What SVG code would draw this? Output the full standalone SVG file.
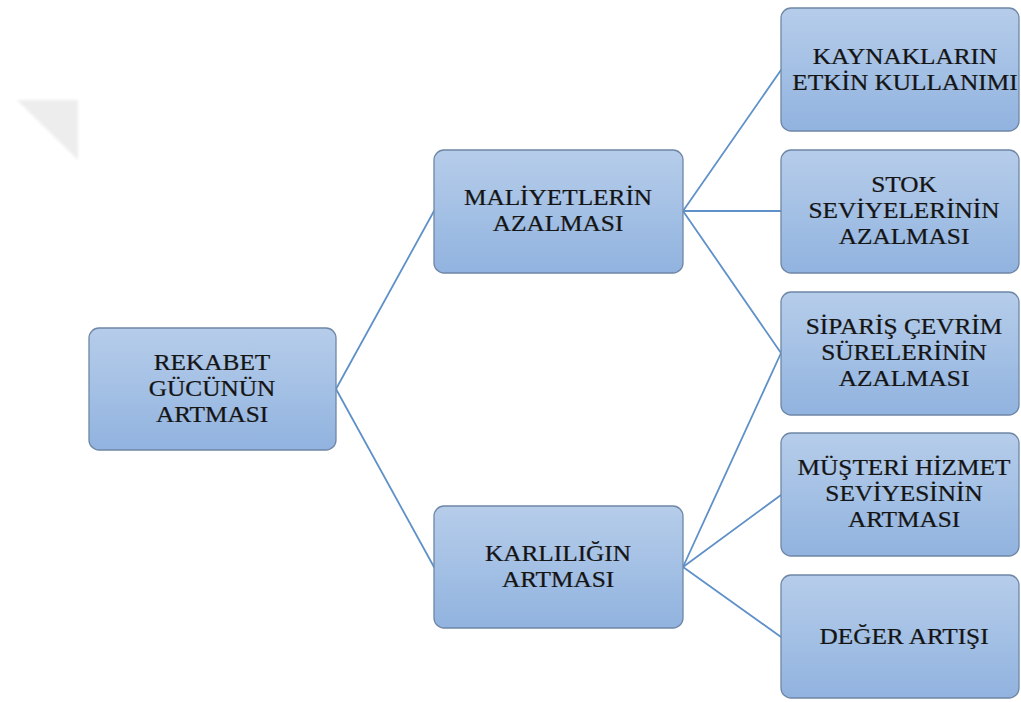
<svg xmlns="http://www.w3.org/2000/svg" width="1021" height="702" viewBox="0 0 1021 702" font-family="Liberation Serif, serif">
  <style>
    .box { fill: url(#boxFill); stroke: #6f87a6; stroke-width: 1.3; }
    .lbl { font-size: 23px; fill: #141414; stroke: #1c1c1c; stroke-width: 0.25; text-anchor: middle; }
    .link { stroke: #5f91c9; stroke-width: 1.8; fill: none; stroke-linecap: round; }
  </style>
  <defs>
    <linearGradient id="boxFill" x1="0" y1="0" x2="0" y2="1">
      <stop offset="0" stop-color="#b6cdea"/>
      <stop offset="1" stop-color="#91b3df"/>
    </linearGradient>
    <filter id="soft" x="-20%" y="-20%" width="140%" height="140%">
      <feGaussianBlur stdDeviation="1.5"/>
    </filter>
  </defs>

  <rect width="1021" height="702" fill="#ffffff"/>

  <!-- faint corner mark -->
  <polygon points="17,100 78,100 78,160" fill="#ededed" filter="url(#soft)"/>

  <!-- connectors -->
  <g id="connectors">
    <line class="link" x1="336" y1="389" x2="434" y2="211"/>
    <line class="link" x1="336" y1="389" x2="434" y2="567"/>
    <line class="link" x1="683" y1="211" x2="781" y2="70"/>
    <line class="link" x1="683" y1="211" x2="781" y2="211"/>
    <line class="link" x1="683" y1="211" x2="781" y2="353"/>
    <line class="link" x1="683" y1="567" x2="781" y2="353"/>
    <line class="link" x1="683" y1="567" x2="781" y2="495"/>
    <line class="link" x1="683" y1="567" x2="781" y2="637"/>
  </g>

  <!-- labels are set in a slightly widened serif: each block is centred at x=0 and stretched 1.1x -->
  <g id="node-rekabet">
    <rect class="box" x="89" y="328" width="247" height="122" rx="10"/>
    <g transform="translate(212 0) scale(1.1 1)">
      <text class="lbl" x="0" y="370">REKABET</text>
      <text class="lbl" x="0" y="396">GÜCÜNÜN</text>
      <text class="lbl" x="0" y="422">ARTMASI</text>
    </g>
  </g>

  <g id="node-maliyet">
    <rect class="box" x="434" y="150" width="249" height="123" rx="10"/>
    <g transform="translate(558 0) scale(1.1 1)">
      <text class="lbl" x="0" y="205">MALİYETLERİN</text>
      <text class="lbl" x="0" y="231">AZALMASI</text>
    </g>
  </g>

  <g id="node-karlilik">
    <rect class="box" x="434" y="506" width="249" height="122" rx="10"/>
    <g transform="translate(558 0) scale(1.1 1)">
      <text class="lbl" x="0" y="561">KARLILIĞIN</text>
      <text class="lbl" x="0" y="587">ARTMASI</text>
    </g>
  </g>

  <g id="node-kaynak">
    <rect class="box" x="781" y="8" width="238" height="123" rx="10"/>
    <g transform="translate(905 0) scale(1.1 1)">
      <text class="lbl" x="0" y="64">KAYNAKLARIN</text>
      <text class="lbl" x="0" y="90">ETKİN KULLANIMI</text>
    </g>
  </g>

  <g id="node-stok">
    <rect class="box" x="781" y="150" width="238" height="123" rx="10"/>
    <g transform="translate(904 0) scale(1.1 1)">
      <text class="lbl" x="0" y="192">STOK</text>
      <text class="lbl" x="0" y="218">SEVİYELERİNİN</text>
      <text class="lbl" x="0" y="244">AZALMASI</text>
    </g>
  </g>

  <g id="node-siparis">
    <rect class="box" x="781" y="292" width="238" height="123" rx="10"/>
    <g transform="translate(904 0) scale(1.1 1)">
      <text class="lbl" x="0" y="334">SİPARİŞ ÇEVRİM</text>
      <text class="lbl" x="0" y="360">SÜRELERİNİN</text>
      <text class="lbl" x="0" y="386">AZALMASI</text>
    </g>
  </g>

  <g id="node-musteri">
    <rect class="box" x="781" y="433" width="238" height="123" rx="10"/>
    <g transform="translate(904 0) scale(1.1 1)">
      <text class="lbl" x="0" y="475">MÜŞTERİ HİZMET</text>
      <text class="lbl" x="0" y="501">SEVİYESİNİN</text>
      <text class="lbl" x="0" y="527">ARTMASI</text>
    </g>
  </g>

  <g id="node-deger">
    <rect class="box" x="781" y="575" width="238" height="123" rx="10"/>
    <g transform="translate(904 0) scale(1.1 1)">
      <text class="lbl" x="0" y="644">DEĞER ARTIŞI</text>
    </g>
  </g>
</svg>
